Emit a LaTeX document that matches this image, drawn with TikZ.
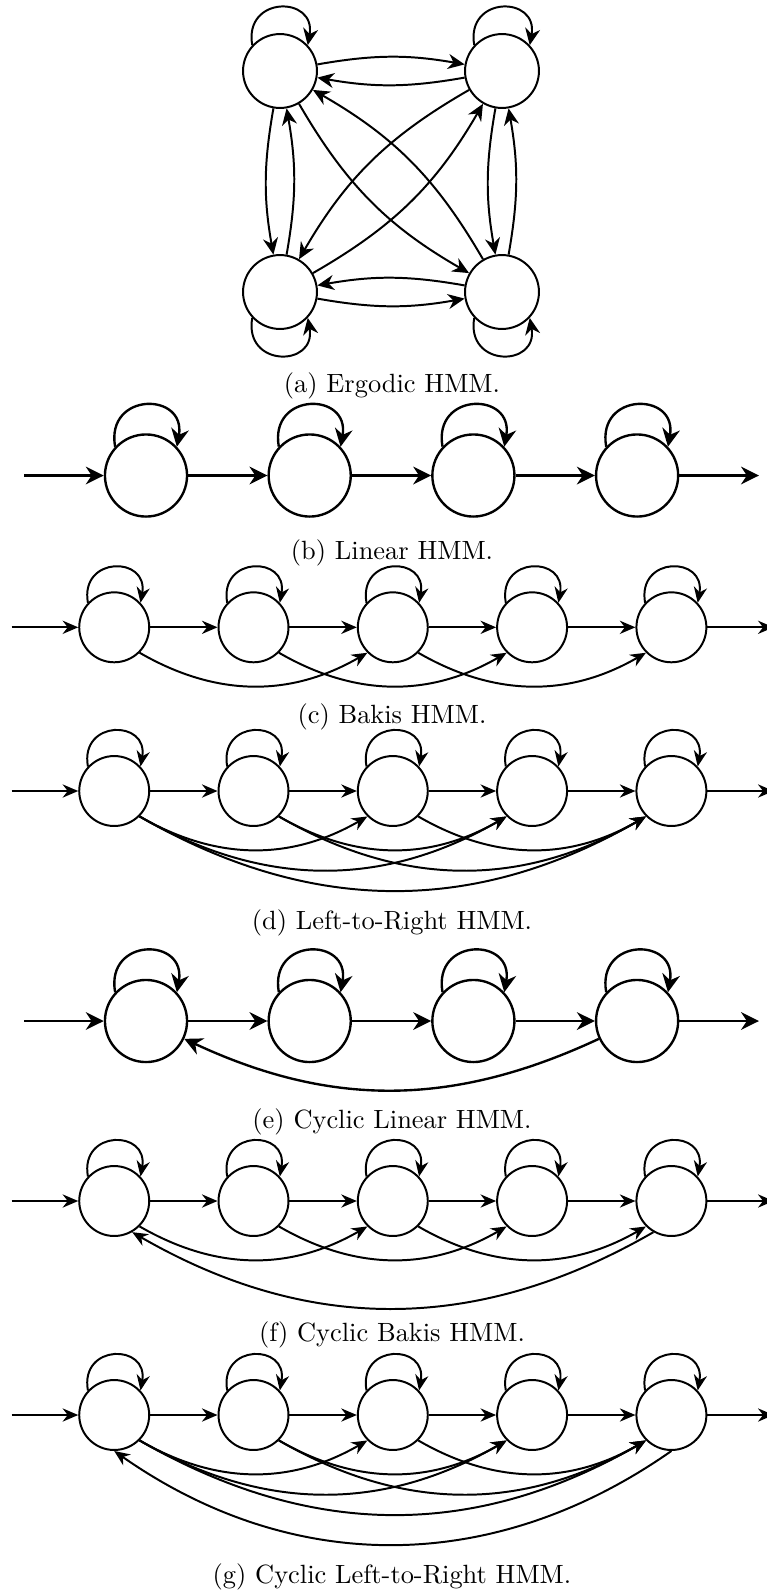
\documentclass[tikz,border=0pt]{standalone}
\usepackage{tikz}
\usetikzlibrary{arrows.meta}
% self-transition drawn as a small round loop over / under a state
\newcommand{\loopup}[3]{\draw[#1] (#2.137) .. controls +(100:#3) and +(80:#3) .. (#2.43);}
\newcommand{\loopdown}[3]{\draw[#1] (#2.-137) .. controls +(-100:#3) and +(-80:#3) .. (#2.-43);}

\begin{document}
\begin{tikzpicture}[
  x=0.3788pt, y=0.3788pt,
  hmm/.style={circle, draw, line width=0.75pt, minimum size=28pt, inner sep=0pt},
  hmmbig/.style={hmm, line width=0.9pt, minimum size=31.1pt},
  hmmsmall/.style={hmm, minimum size=26.5pt},
  arr/.style={-{Stealth[length=6.3pt, width=5.7pt]}, line width=0.75pt},
  arrbig/.style={-{Stealth[length=6.8pt, width=6.7pt]}, line width=0.9pt},
  arrsmall/.style={-{Stealth[length=5.9pt, width=5pt]}, line width=0.75pt},
  subcap/.style={font=\normalsize, inner sep=0pt},
]
\useasboundingbox (0,0) rectangle (767,-1592);
\clip (0,0) rectangle (767,-1592);

% (a) ergodic: four fully connected states
\node[hmm] (a1) at (280,-71)  {};
\node[hmm] (a2) at (502,-71)  {};
\node[hmm] (a3) at (280,-292) {};
\node[hmm] (a4) at (502,-292) {};
\loopup{arr}{a1}{50.5}
\loopup{arr}{a2}{50.5}
\loopdown{arr}{a3}{50.5}
\loopdown{arr}{a4}{50.5}
\draw[arr] (a1) to[bend left=10] (a2);
\draw[arr] (a2) to[bend left=10] (a1);
\draw[arr] (a1) to[bend right=10] (a3);
\draw[arr] (a3) to[bend right=10] (a1);
\draw[arr] (a2) to[bend right=10] (a4);
\draw[arr] (a4) to[bend right=10] (a2);
\draw[arr] (a3) to[bend right=10] (a4);
\draw[arr] (a4) to[bend right=10] (a3);
\draw[arr] (a1) to[bend right=15] (a4);
\draw[arr] (a4) to[bend right=15] (a1);
\draw[arr] (a2) to[bend right=15] (a3);
\draw[arr] (a3) to[bend right=15] (a2);
\node[subcap] (capa) at (392,-386) {(a) Ergodic HMM.};

% (b) linear chain
\coordinate (bin)  at (24,-475.5);
\coordinate (bout) at (759,-475.5);
\node[hmmbig] (b1) at (146,-475.5)   {};
\node[hmmbig] (b2) at (309.7,-475.5) {};
\node[hmmbig] (b3) at (473.4,-475.5) {};
\node[hmmbig] (b4) at (637.1,-475.5) {};
\loopup{arrbig}{b1}{56}
\loopup{arrbig}{b2}{56}
\loopup{arrbig}{b3}{56}
\loopup{arrbig}{b4}{56}
\draw[arrbig] (bin) -- (b1);
\draw[arrbig] (b1) -- (b2);
\draw[arrbig] (b2) -- (b3);
\draw[arrbig] (b3) -- (b4);
\draw[arrbig] (b4) -- (bout);
\node[subcap] (capb) at (392,-553) {(b) Linear HMM.};

% (c) bakis: one state may be skipped
\coordinate (cin)  at (11.7,-627.3);
\coordinate (cout) at (773.6,-627.3);
\node[hmmsmall] (c1) at (114.2,-627.3) {};
\node[hmmsmall] (c2) at (253.5,-627.3) {};
\node[hmmsmall] (c3) at (392.8,-627.3) {};
\node[hmmsmall] (c4) at (532.1,-627.3) {};
\node[hmmsmall] (c5) at (671.4,-627.3) {};
\loopup{arrsmall}{c1}{47.8}
\loopup{arrsmall}{c2}{47.8}
\loopup{arrsmall}{c3}{47.8}
\loopup{arrsmall}{c4}{47.8}
\loopup{arrsmall}{c5}{47.8}
\draw[arrsmall] (cin) -- (c1);
\draw[arrsmall] (c1) -- (c2);
\draw[arrsmall] (c2) -- (c3);
\draw[arrsmall] (c3) -- (c4);
\draw[arrsmall] (c4) -- (c5);
\draw[arrsmall] (c5) -- (cout);
\draw[arrsmall] (c1.south east) to[bend right] (c3.south west);
\draw[arrsmall] (c2.south east) to[bend right] (c4.south west);
\draw[arrsmall] (c3.south east) to[bend right] (c5.south west);
\node[subcap] (capc) at (392,-717) {(c) Bakis HMM.};

% (d) left-to-right: every forward jump
\coordinate (din)  at (11.7,-791);
\coordinate (dout) at (773.6,-791);
\node[hmmsmall] (d1) at (114.2,-791) {};
\node[hmmsmall] (d2) at (253.5,-791) {};
\node[hmmsmall] (d3) at (392.8,-791) {};
\node[hmmsmall] (d4) at (532.1,-791) {};
\node[hmmsmall] (d5) at (671.4,-791) {};
\loopup{arrsmall}{d1}{47.8}
\loopup{arrsmall}{d2}{47.8}
\loopup{arrsmall}{d3}{47.8}
\loopup{arrsmall}{d4}{47.8}
\loopup{arrsmall}{d5}{47.8}
\draw[arrsmall] (din) -- (d1);
\draw[arrsmall] (d1) -- (d2);
\draw[arrsmall] (d2) -- (d3);
\draw[arrsmall] (d3) -- (d4);
\draw[arrsmall] (d4) -- (d5);
\draw[arrsmall] (d5) -- (dout);
\draw[arrsmall] (d1.south east) to[bend right] (d3.south west);
\draw[arrsmall] (d2.south east) to[bend right] (d4.south west);
\draw[arrsmall] (d3.south east) to[bend right] (d5.south west);
\draw[arrsmall] (d1.south east) to[bend right] (d4.south west);
\draw[arrsmall] (d2.south east) to[bend right] (d5.south west);
\draw[arrsmall] (d1.south east) to[bend right] (d5.south west);
\node[subcap] (capd) at (392,-923) {(d) Left-to-Right HMM.};

% (e) cyclic linear: chain plus return to the first state
\coordinate (ein)  at (24,-1021);
\coordinate (eout) at (759,-1021);
\node[hmmbig] (e1) at (146,-1021)   {};
\node[hmmbig] (e2) at (309.7,-1021) {};
\node[hmmbig] (e3) at (473.4,-1021) {};
\node[hmmbig] (e4) at (637.1,-1021) {};
\loopup{arrbig}{e1}{56}
\loopup{arrbig}{e2}{56}
\loopup{arrbig}{e3}{56}
\loopup{arrbig}{e4}{56}
\draw[arrbig] (ein) -- (e1);
\draw[arrbig] (e1) -- (e2);
\draw[arrbig] (e2) -- (e3);
\draw[arrbig] (e3) -- (e4);
\draw[arrbig] (e4) -- (eout);
\draw[arrbig] (e4) to[bend left=25] (e1);
\node[subcap] (cape) at (392,-1122) {(e) Cyclic Linear HMM.};

% (f) cyclic bakis
\coordinate (fin)  at (11.7,-1201);
\coordinate (fout) at (773.6,-1201);
\node[hmmsmall] (f1) at (114.2,-1201) {};
\node[hmmsmall] (f2) at (253.5,-1201) {};
\node[hmmsmall] (f3) at (392.8,-1201) {};
\node[hmmsmall] (f4) at (532.1,-1201) {};
\node[hmmsmall] (f5) at (671.4,-1201) {};
\loopup{arrsmall}{f1}{47.8}
\loopup{arrsmall}{f2}{47.8}
\loopup{arrsmall}{f3}{47.8}
\loopup{arrsmall}{f4}{47.8}
\loopup{arrsmall}{f5}{47.8}
\draw[arrsmall] (fin) -- (f1);
\draw[arrsmall] (f1) -- (f2);
\draw[arrsmall] (f2) -- (f3);
\draw[arrsmall] (f3) -- (f4);
\draw[arrsmall] (f4) -- (f5);
\draw[arrsmall] (f5) -- (fout);
\draw[arrsmall] (f1.south east) to[bend right] (f3.south west);
\draw[arrsmall] (f2.south east) to[bend right] (f4.south west);
\draw[arrsmall] (f3.south east) to[bend right] (f5.south west);
\draw[arrsmall] (f5.-120) to[bend left] (f1.-60);
\node[subcap] (capf) at (392,-1335) {(f) Cyclic Bakis HMM.};

% (g) cyclic left-to-right
\coordinate (gin)  at (11.7,-1415);
\coordinate (gout) at (773.6,-1415);
\node[hmmsmall] (g1) at (114.2,-1415) {};
\node[hmmsmall] (g2) at (253.5,-1415) {};
\node[hmmsmall] (g3) at (392.8,-1415) {};
\node[hmmsmall] (g4) at (532.1,-1415) {};
\node[hmmsmall] (g5) at (671.4,-1415) {};
\loopup{arrsmall}{g1}{47.8}
\loopup{arrsmall}{g2}{47.8}
\loopup{arrsmall}{g3}{47.8}
\loopup{arrsmall}{g4}{47.8}
\loopup{arrsmall}{g5}{47.8}
\draw[arrsmall] (gin) -- (g1);
\draw[arrsmall] (g1) -- (g2);
\draw[arrsmall] (g2) -- (g3);
\draw[arrsmall] (g3) -- (g4);
\draw[arrsmall] (g4) -- (g5);
\draw[arrsmall] (g5) -- (gout);
\draw[arrsmall] (g1.south east) to[bend right] (g3.south west);
\draw[arrsmall] (g2.south east) to[bend right] (g4.south west);
\draw[arrsmall] (g3.south east) to[bend right] (g5.south west);
\draw[arrsmall] (g1.south east) to[bend right] (g4.south west);
\draw[arrsmall] (g2.south east) to[bend right] (g5.south west);
\draw[arrsmall] (g1.south east) to[bend right] (g5.south west);
\draw[arrsmall] (g5.south) to[bend left=35] (g1.south);
\node[subcap] (capg) at (392,-1577) {(g) Cyclic Left-to-Right HMM.};
\end{tikzpicture}
\end{document}
